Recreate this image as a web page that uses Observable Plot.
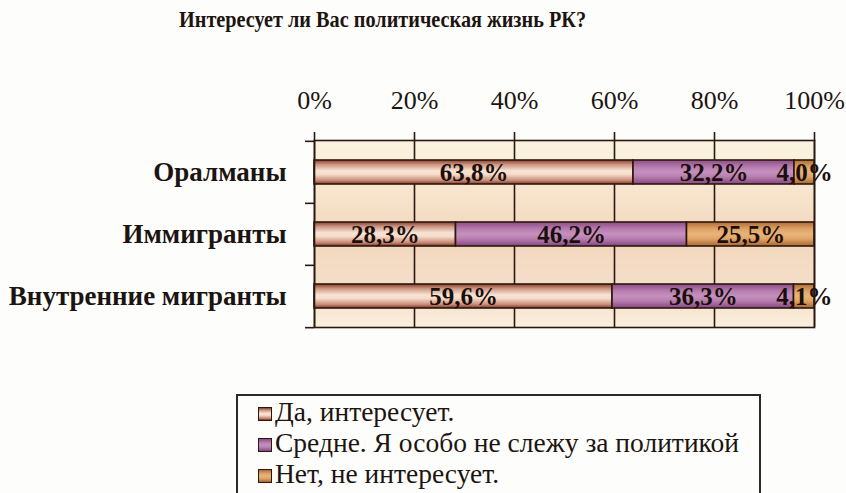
<!DOCTYPE html>
<html>
<head>
<meta charset="utf-8">
<script src="https://cdn.jsdelivr.net/npm/d3@7"></script>
<script src="https://cdn.jsdelivr.net/npm/@observablehq/plot@0.6"></script>
<style>
  html, body { margin: 0; padding: 0; background: #fdfdfc; width: 846px; height: 493px; overflow: hidden; }
  body { position: relative; font-family: "Liberation Serif", "DejaVu Serif", serif; color: #1c1410; }
  #title { position: absolute; left: 179px; top: 8px; font-size: 23px; line-height: 23px; font-weight: bold; white-space: nowrap; transform: scaleX(0.88); transform-origin: left top; }
  #chart { position: absolute; left: 0; top: 40px; }
  #legend { position: absolute; left: 236px; top: 394px; width: 525px; height: 120px; border: 2px solid #2a2a2a; box-sizing: border-box; }
  .row { height: 31px; display: flex; align-items: center; padding-left: 20px; font-size: 27.5px; white-space: nowrap; }
  .sw { width: 12px; height: 12px; border: 1.5px solid #2a1810; margin-right: 3px; margin-top: 4px; flex: none; }
</style>
</head>
<body>
<div id="title"></div>
<div id="chart"></div>
<div id="legend"></div>
<script>
const title = "Интересует ли Вас политическая жизнь РК?";
const groups = ["Оралманы", "Иммигранты", "Внутренние мигранты"];
const answers = ["Да, интересует.", "Средне. Я особо не слежу за политикой", "Нет, не интересует."];
const yesValues = [63.8, 28.3, 59.6];
const midValues = [32.2, 46.2, 36.3];
const noValues = [4.0, 25.5, 4.1];
const xTicks = [0, 20, 40, 60, 80, 100];

const seriesValues = [yesValues, midValues, noValues];
const gradIds = ["gYes", "gMid", "gNo"];
const data = [];
groups.forEach((g, i) => {
  answers.forEach((a, j) => data.push({group: g, answer: a, value: seriesValues[j][i]}));
});
const fmt = v => v.toFixed(1).replace(".", ",") + "%";

document.getElementById("title").textContent = title;

const ink = "#2b1810";
const W = 846, H = 300, mT = 100, mB = 13;
const half = (H - mT - mB) / groups.length / 2;

const chart = Plot.plot({
  width: W,
  height: H,
  marginTop: mT,
  marginBottom: mB,
  marginLeft: 314,
  marginRight: 32,
  style: {fontFamily: "Liberation Serif, serif", background: "transparent", color: "#1c1410", overflow: "visible"},
  x: {domain: [0, 100]},
  y: {domain: groups, paddingInner: 0.615, paddingOuter: 0.3075},
  color: {domain: answers, range: gradIds.map(id => `url(#${id})`)},
  marks: [
    Plot.frame({fill: "url(#gBg)", stroke: "none"}),
    Plot.ruleX(xTicks, {stroke: ink, strokeWidth: 1.6}),
    Plot.barX(data, Plot.stackX({x: "value", y: "group", fill: "answer", stroke: ink, strokeWidth: 1.6, order: null})),
    Plot.text(data, Plot.stackX({x: "value", y: "group", z: "answer", text: d => fmt(d.value), fontSize: 25, fontWeight: "bold", fill: "#1a0f0a", order: null})),
    Plot.frame({stroke: ink, strokeWidth: 1.6}),
    Plot.axisX(xTicks, {anchor: "top", tickSize: 9, tickPadding: 23, tickFormat: d => d + "%", fontSize: 26, stroke: ink, strokeWidth: 1.6, fill: "#1c1410", label: null}),
    Plot.axisY(groups, {anchor: "left", tickSize: 9, tickFormat: () => "", dy: -half, stroke: ink, strokeWidth: 1.6, label: null}),
    Plot.axisY(groups.slice(-1), {anchor: "left", tickSize: 9, tickFormat: () => "", dy: half, stroke: ink, strokeWidth: 1.6, label: null}),
    Plot.axisY(groups, {anchor: "left", tickSize: 0, tickPadding: 28, fontSize: 27, fontWeight: "bold", fill: "#1c1410", label: null})
  ]
});

const defs = d3.select(chart).insert("defs", ":first-child");
function grad(id, stops) {
  const g = defs.append("linearGradient").attr("id", id).attr("x1", 0).attr("y1", 0).attr("x2", 0).attr("y2", 1);
  stops.forEach(([o, c]) => g.append("stop").attr("offset", o).attr("stop-color", c));
}
const gradStops = {
  gYes: [[0, "#8a3f2e"], [0.2, "#cf9a86"], [0.45, "#f8e3d4"], [0.6, "#f6dccb"], [0.85, "#c98c78"], [1, "#803526"]],
  gMid: [[0, "#8d4c86"], [0.3, "#b77eb0"], [0.5, "#c590be"], [0.7, "#b77eb0"], [1, "#864580"]],
  gNo: [[0, "#b06c34"], [0.3, "#dfa468"], [0.5, "#e9b478"], [0.7, "#dfa468"], [1, "#aa6630"]],
  gBg: [[0, "#fbf3e0"], [0.12, "#faefd9"], [0.5, "#f3d6bd"], [0.85, "#f5e1cc"], [1, "#faf0dd"]]
};
Object.entries(gradStops).forEach(([id, s]) => grad(id, s));

document.getElementById("chart").appendChild(chart);

const legend = document.getElementById("legend");
answers.forEach((a, j) => {
  const row = document.createElement("div");
  row.className = "row";
  const sw = document.createElement("div");
  sw.className = "sw";
  const st = gradStops[gradIds[j]];
  sw.style.background = `linear-gradient(to bottom, ${st.map(([o, c]) => `${c} ${o * 100}%`).join(", ")})`;
  const tx = document.createElement("span");
  tx.textContent = a;
  row.appendChild(sw);
  row.appendChild(tx);
  legend.appendChild(row);
});
</script>
</body>
</html>
